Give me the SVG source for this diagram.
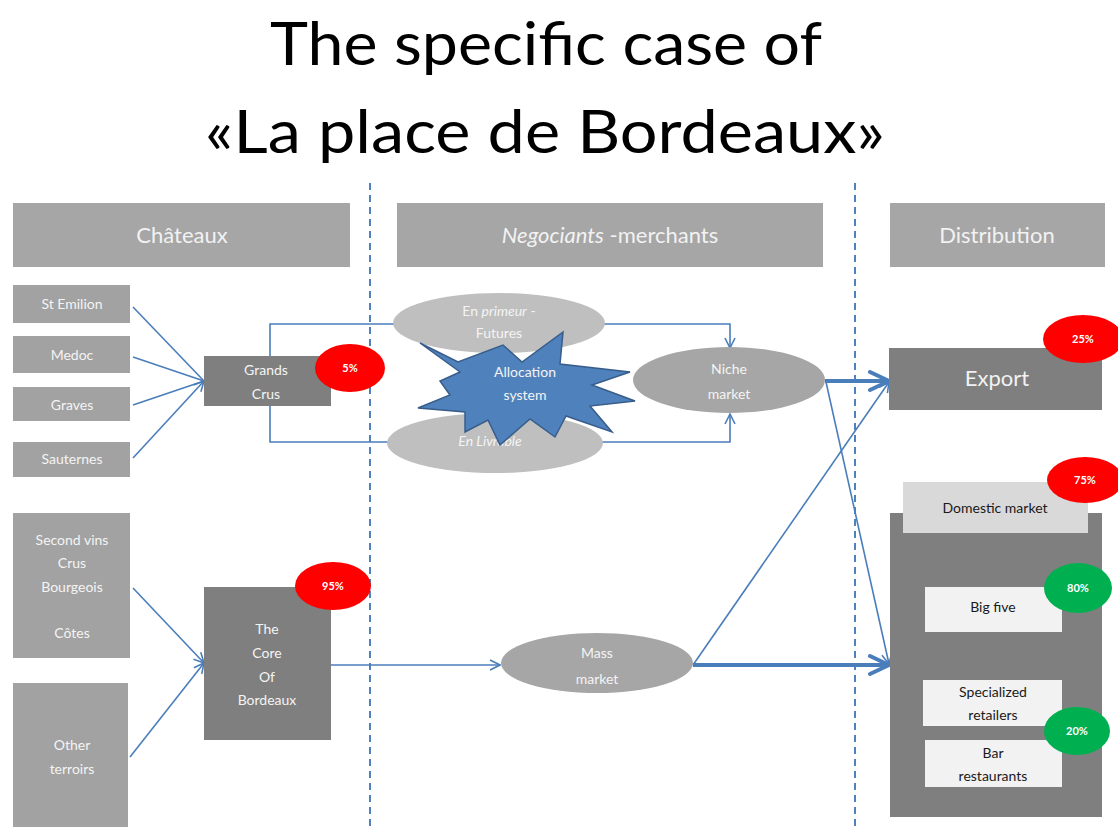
<svg xmlns="http://www.w3.org/2000/svg" width="1118" height="828" viewBox="0 0 1118 828">
<style>
text{font-family:Lato,"Open Sans","Liberation Sans",sans-serif;text-anchor:middle}
.title{font-size:60px;fill:#000}
.hdr{fill:#a6a6a6}
.htxt{font-size:22px;fill:#f2f2f2}
.src{fill:#a2a2a2}
.dark{fill:#7f7f7f}
.wt{font-size:14px;fill:#f4f4f4}
.bt{font-size:14px;fill:#1a1a1a}
.pct{font-size:11px;font-weight:bold;fill:#fff}
.red{fill:#ff0000}
.green{fill:#00b050}
.lt{fill:#f2f2f2}
.div{stroke:#4f81bd;stroke-width:2;stroke-dasharray:7,5;fill:none}
.ln{stroke:#4a7ebb;stroke-width:1.6;fill:none}
.thick{stroke:#4a7ebb;stroke-width:4;fill:none}
</style>
<defs>
<marker id="ah" viewBox="0 0 12 12" refX="11" refY="6" markerWidth="12" markerHeight="12" markerUnits="userSpaceOnUse" orient="auto">
<path d="M1,1 L11,6 L1,11" fill="none" stroke="#4a7ebb" stroke-width="1.6"/>
</marker>
<marker id="ahT" viewBox="0 0 24 24" refX="22" refY="12" markerWidth="24" markerHeight="24" markerUnits="userSpaceOnUse" orient="auto">
<path d="M3,3 L22,12 L3,21" fill="none" stroke="#4a7ebb" stroke-width="4" stroke-linecap="round"/>
</marker>
</defs>
<rect width="1118" height="828" fill="#fff"/>
<g id="title">
<text class="title" x="546" y="65" textLength="552" lengthAdjust="spacingAndGlyphs">The specific case of</text>
<text class="title" x="545" y="153" textLength="680" lengthAdjust="spacingAndGlyphs">«La place de Bordeaux»</text>
</g>
<g id="dividers">
<line class="div" x1="370" y1="183" x2="370" y2="828"/>
<line class="div" x1="855" y1="183" x2="855" y2="828"/>
</g>
<g id="hdr-chateaux"><rect class="hdr" x="13" y="203" width="337" height="64"/><text class="htxt" x="182" y="243">Châteaux</text></g>
<g id="hdr-negociants"><rect class="hdr" x="397" y="203" width="426" height="64"/><text class="htxt" x="610" y="243"><tspan font-style="italic">Negociants</tspan> -merchants</text></g>
<g id="hdr-distribution"><rect class="hdr" x="890" y="203" width="215" height="64"/><text class="htxt" x="997" y="243">Distribution</text></g>

<g id="connectors">
<line class="ln" x1="133" y1="307" x2="204" y2="381"/>
<line class="ln" x1="133" y1="357" x2="204" y2="381"/>
<line class="ln" x1="133" y1="405" x2="204" y2="381"/>
<line class="ln" x1="133" y1="458" x2="204" y2="381" marker-end="url(#ah)"/>
<polyline class="ln" points="270,356 270,324 730,324 730,348" marker-end="url(#ah)"/>
<polyline class="ln" points="270,406 270,442 730,442 730,414" marker-end="url(#ah)"/>
<line class="ln" x1="133" y1="588" x2="204" y2="663" marker-end="url(#ah)"/>
<line class="ln" x1="130" y1="757" x2="204" y2="663" marker-end="url(#ah)"/>
<line class="ln" x1="331" y1="665" x2="500" y2="665" marker-end="url(#ah)"/>
<line class="thick" x1="693" y1="665" x2="889" y2="665" marker-end="url(#ahT)"/>
<line class="ln" x1="693" y1="665" x2="889" y2="382" marker-end="url(#ah)"/>
<line class="thick" x1="825" y1="381" x2="889" y2="381" marker-end="url(#ahT)"/>
<line class="ln" x1="826" y1="382" x2="889" y2="664" marker-end="url(#ah)"/>
</g>

<g id="st-emilion"><rect class="src" x="13" y="285" width="117" height="38"/><text class="wt" x="72" y="309">St Emilion</text></g>
<g id="medoc"><rect class="src" x="13" y="336" width="117" height="37"/><text class="wt" x="72" y="360">Medoc</text></g>
<g id="graves"><rect class="src" x="13" y="387" width="117" height="34"/><text class="wt" x="72" y="410">Graves</text></g>
<g id="sauternes"><rect class="src" x="13" y="442" width="117" height="35"/><text class="wt" x="72" y="464">Sauternes</text></g>

<g id="grands-crus"><rect class="dark" x="204" y="356" width="127" height="50"/><text class="wt" x="266" y="375" font-size="15">Grands</text><text class="wt" x="266" y="399" font-size="15">Crus</text></g>
<g id="pct-5"><ellipse class="red" cx="350" cy="368" rx="35" ry="24"/><text class="pct" x="350" y="372">5%</text></g>

<g id="en-primeur"><ellipse cx="499" cy="323" rx="106" ry="30" fill="#bfbfbf"/><text class="wt" x="499" y="316"><tspan>En </tspan><tspan font-style="italic">primeur</tspan><tspan> -</tspan></text><text class="wt" x="499" y="338">Futures</text></g>
<g id="en-livrable"><ellipse cx="495" cy="443" rx="108" ry="30" fill="#bfbfbf"/><text class="wt" x="490" y="446" font-style="italic">En Livrable</text></g>

<g id="allocation">
<polygon points="420,343 458,362 503,345 522,362 563,332 560,364 630,372 592,385 635,401 590,406 612,432 566,416 555,437 530,419 500,445 488,420 465,432 465,412 418,408 450,395 440,381 460,372" fill="#4f81bd" stroke="#385d8a" stroke-width="1.5" stroke-linejoin="miter"/>
<text class="wt" x="525" y="377" font-size="15">Allocation</text><text class="wt" x="525" y="400" font-size="15">system</text>
</g>

<g id="niche"><ellipse cx="729" cy="380" rx="96" ry="33" fill="#a6a6a6"/><text class="wt" x="729" y="374" font-size="15">Niche</text><text class="wt" x="729" y="399" font-size="15">market</text></g>

<g id="export"><rect class="dark" x="889" y="348" width="213" height="62"/><text class="htxt" x="997" y="386">Export</text></g>
<g id="pct-25"><ellipse class="red" cx="1083" cy="339" rx="40" ry="24"/><text class="pct" x="1083" y="343">25%</text></g>

<g id="domestic">
<rect class="dark" x="890" y="513" width="212" height="304"/>
<rect x="903" y="482" width="185" height="51" fill="#d9d9d9"/>
<text class="bt" x="995" y="513" font-size="15">Domestic market</text>
</g>
<g id="pct-75"><ellipse class="red" cx="1085" cy="480" rx="38" ry="23"/><text class="pct" x="1085" y="484">75%</text></g>

<g id="big-five"><rect class="lt" x="925" y="587" width="137" height="45"/><text class="bt" x="993" y="612">Big five</text></g>
<g id="pct-80"><ellipse class="green" cx="1078" cy="588" rx="34" ry="25"/><text class="pct" x="1078" y="592">80%</text></g>
<g id="specialized"><rect class="lt" x="923" y="680" width="139" height="46"/><text class="bt" x="993" y="697">Specialized</text><text class="bt" x="993" y="720">retailers</text></g>
<g id="bar"><rect class="lt" x="925" y="740" width="137" height="47"/><text class="bt" x="993" y="758">Bar</text><text class="bt" x="993" y="781">restaurants</text></g>
<g id="pct-20"><ellipse class="green" cx="1077" cy="731" rx="33" ry="24"/><text class="pct" x="1077" y="735">20%</text></g>

<g id="second-vins"><rect class="src" x="13" y="513" width="117" height="145"/><text class="wt" x="72" y="545">Second vins</text><text class="wt" x="72" y="568">Crus</text><text class="wt" x="72" y="592">Bourgeois</text><text class="wt" x="72" y="638">Côtes</text></g>
<g id="other-terroirs"><rect class="src" x="13" y="683" width="115" height="144"/><text class="wt" x="72" y="750">Other</text><text class="wt" x="72" y="774">terroirs</text></g>

<g id="core"><rect class="dark" x="204" y="587" width="127" height="153"/><text class="wt" x="267" y="634">The</text><text class="wt" x="267" y="658">Core</text><text class="wt" x="267" y="682">Of</text><text class="wt" x="267" y="705">Bordeaux</text></g>
<g id="pct-95"><ellipse class="red" cx="333" cy="586" rx="38" ry="24"/><text class="pct" x="333" y="590">95%</text></g>

<g id="mass"><ellipse cx="597" cy="663" rx="96" ry="30" fill="#a6a6a6"/><text class="wt" x="597" y="658" font-size="15">Mass</text><text class="wt" x="597" y="684" font-size="15">market</text></g>
</svg>
